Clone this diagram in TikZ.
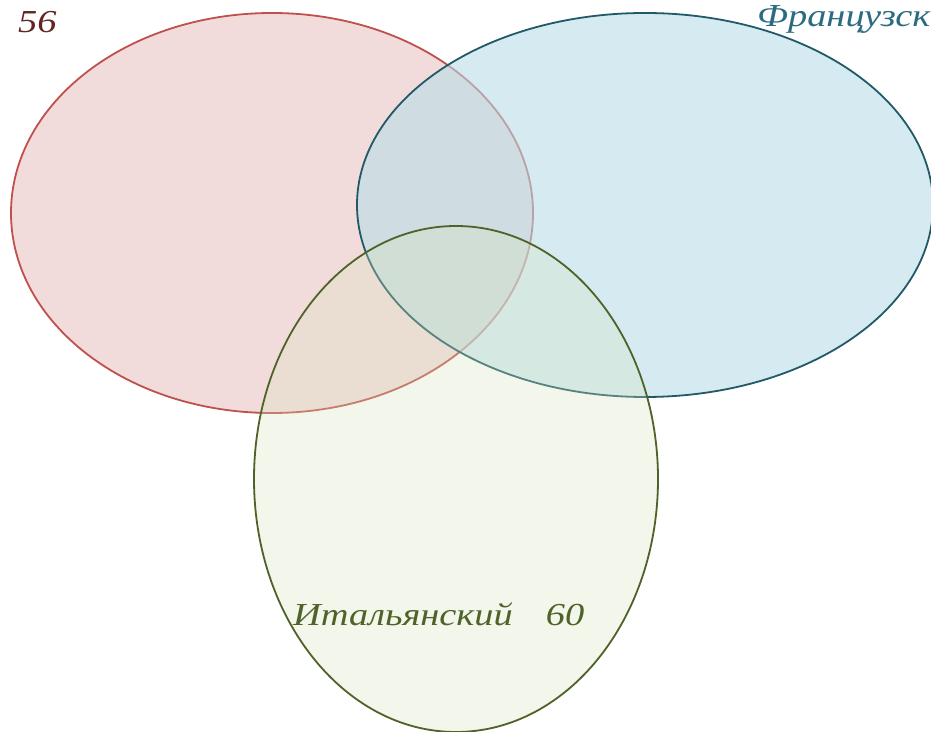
\documentclass[tikz,border=0pt]{standalone}
\usepackage{fontspec}
\setmainfont{Liberation Serif}
\newfontfamily\scrfont[FakeStretch=1.2]{Liberation Serif}
\definecolor{redfill}{HTML}{F2DCDB}
\definecolor{redline}{HTML}{C0504D}
\definecolor{redtext}{HTML}{632523}
\definecolor{bluefill}{HTML}{B7DDE8}
\definecolor{blueline}{HTML}{215968}
\definecolor{bluetext}{HTML}{2B6C80}
\definecolor{greenfill}{HTML}{D7E4BD}
\definecolor{greenline}{HTML}{4F6228}
\tikzset{
  setline/.style={line width=1.8pt},
  lbl/.style={inner sep=0pt, anchor=base west, font=\scrfont\itshape\fontsize{32}{36}\selectfont}
}
\begin{document}
\begin{tikzpicture}[x=1pt,y=1pt]
\clip (0,0) rectangle (931,731);
\useasboundingbox (0,0) rectangle (931,731);
\fill[white] (0,0) rectangle (931,731);
% red set
\path[setline, fill=redfill, draw=redline] (272,518) ellipse [x radius=261, y radius=200];
% blue set
\path[setline, fill=bluefill, fill opacity=0.58, draw=blueline] (645,526) ellipse [x radius=288, y radius=192];
% green set
\path[setline, fill=greenfill, fill opacity=0.3, draw=greenline] (456,252) ellipse [x radius=202, y radius=253];
% labels
\node[lbl, text=redtext] (lred) at (18,698) {56};
\node[lbl, text=bluetext] (lblue) at (757,704) {Французский};
\node[lbl, text=greenline] (lgreen) at (293,106) {Итальянский\hspace{33pt}60};
\end{tikzpicture}
\end{document}
